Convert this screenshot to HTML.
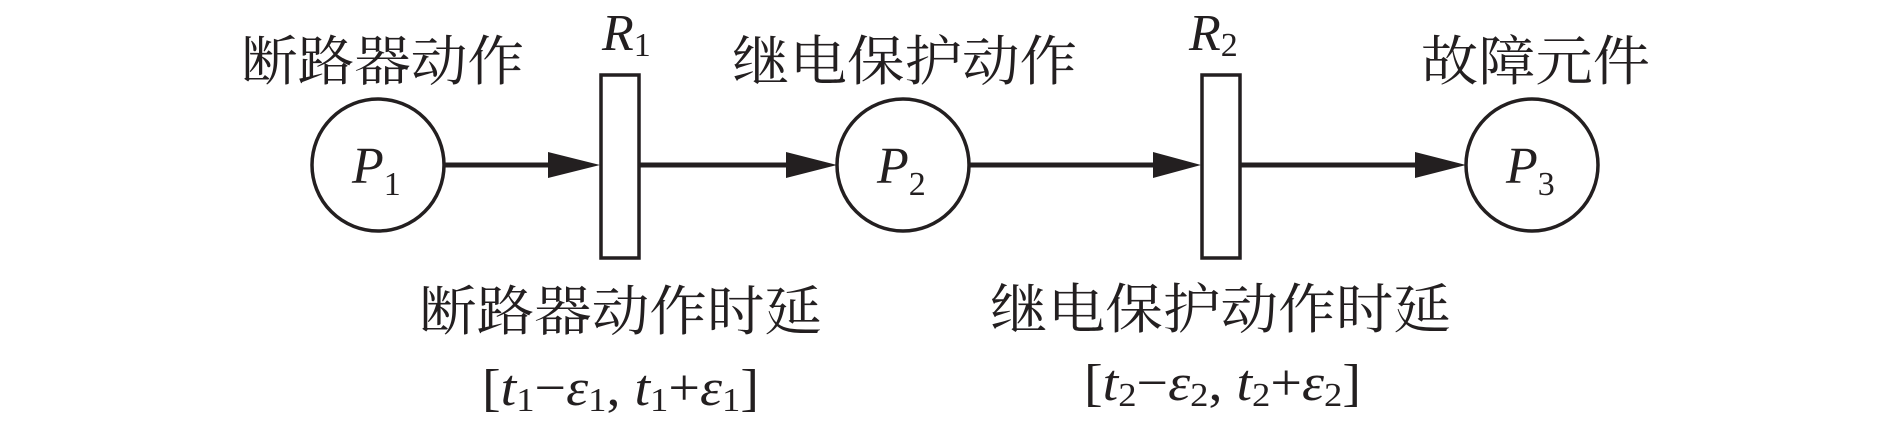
<!DOCTYPE html>
<html><head><meta charset="utf-8"><style>
html,body{margin:0;padding:0;background:#fff;}
svg{display:block;}
.cjk{font-family:"Liberation Serif","Noto Serif CJK SC",serif;font-size:54px;fill:#231f20;}
.m{font-family:"Liberation Serif",serif;font-size:52px;fill:#231f20;}
</style></head><body>
<svg width="1890" height="430" viewBox="0 0 1890 430" xmlns="http://www.w3.org/2000/svg">
<g stroke="#231f20" stroke-width="3.5" fill="none">
<circle cx="378" cy="165" r="66"/>
<circle cx="903" cy="165" r="66"/>
<circle cx="1532" cy="165" r="66"/>
<rect x="601" y="75" width="38" height="183"/>
<rect x="1202" y="75" width="38" height="183"/>
<line x1="445" y1="165" x2="552" y2="165" stroke-width="5"/>
<line x1="640" y1="165" x2="790" y2="165" stroke-width="5"/>
<line x1="969" y1="165" x2="1157" y2="165" stroke-width="5"/>
<line x1="1241" y1="165" x2="1419" y2="165" stroke-width="5"/>
</g>
<g fill="#231f20">
<polygon points="548,152 600,165 548,178"/>
<polygon points="786,152 837,165 786,178"/>
<polygon points="1153,152 1201,165 1153,178"/>
<polygon points="1415,152 1466,165 1415,178"/>
</g>
<text class="cjk" x="241" y="80" textLength="283" lengthAdjust="spacingAndGlyphs">断路器动作</text>
<text class="cjk" x="732" y="80" textLength="345" lengthAdjust="spacingAndGlyphs">继电保护动作</text>
<text class="cjk" x="1421" y="80" textLength="229" lengthAdjust="spacingAndGlyphs">故障元件</text>
<text class="cjk" x="419" y="330" textLength="403" lengthAdjust="spacingAndGlyphs">断路器动作时延</text>
<text class="cjk" x="990" y="328" textLength="461" lengthAdjust="spacingAndGlyphs">继电保护动作时延</text>
<text class="m" x="602" y="50"><tspan font-style="italic">R</tspan><tspan font-size="34" dy="6">1</tspan></text>
<text class="m" x="1189" y="50"><tspan font-style="italic">R</tspan><tspan font-size="34" dy="6">2</tspan></text>
<text class="m" x="352" y="183"><tspan font-style="italic">P</tspan><tspan font-size="34" dy="12">1</tspan></text>
<text class="m" x="877" y="183"><tspan font-style="italic">P</tspan><tspan font-size="34" dy="12">2</tspan></text>
<text class="m" x="1506" y="183"><tspan font-style="italic">P</tspan><tspan font-size="34" dy="12">3</tspan></text>
<text class="m" x="482" y="405" textLength="277" lengthAdjust="spacingAndGlyphs">[<tspan font-style="italic">t</tspan><tspan font-size="34" dy="6">1</tspan><tspan dy="-6">−</tspan><tspan font-style="italic">ε</tspan><tspan font-size="34" dy="6">1</tspan><tspan dy="-6">, </tspan><tspan font-style="italic">t</tspan><tspan font-size="34" dy="6">1</tspan><tspan dy="-6">+</tspan><tspan font-style="italic">ε</tspan><tspan font-size="34" dy="6">1</tspan><tspan dy="-6">]</tspan></text>
<text class="m" x="1084" y="400" textLength="277" lengthAdjust="spacingAndGlyphs">[<tspan font-style="italic">t</tspan><tspan font-size="34" dy="6">2</tspan><tspan dy="-6">−</tspan><tspan font-style="italic">ε</tspan><tspan font-size="34" dy="6">2</tspan><tspan dy="-6">, </tspan><tspan font-style="italic">t</tspan><tspan font-size="34" dy="6">2</tspan><tspan dy="-6">+</tspan><tspan font-style="italic">ε</tspan><tspan font-size="34" dy="6">2</tspan><tspan dy="-6">]</tspan></text>
</svg>
</body></html>
